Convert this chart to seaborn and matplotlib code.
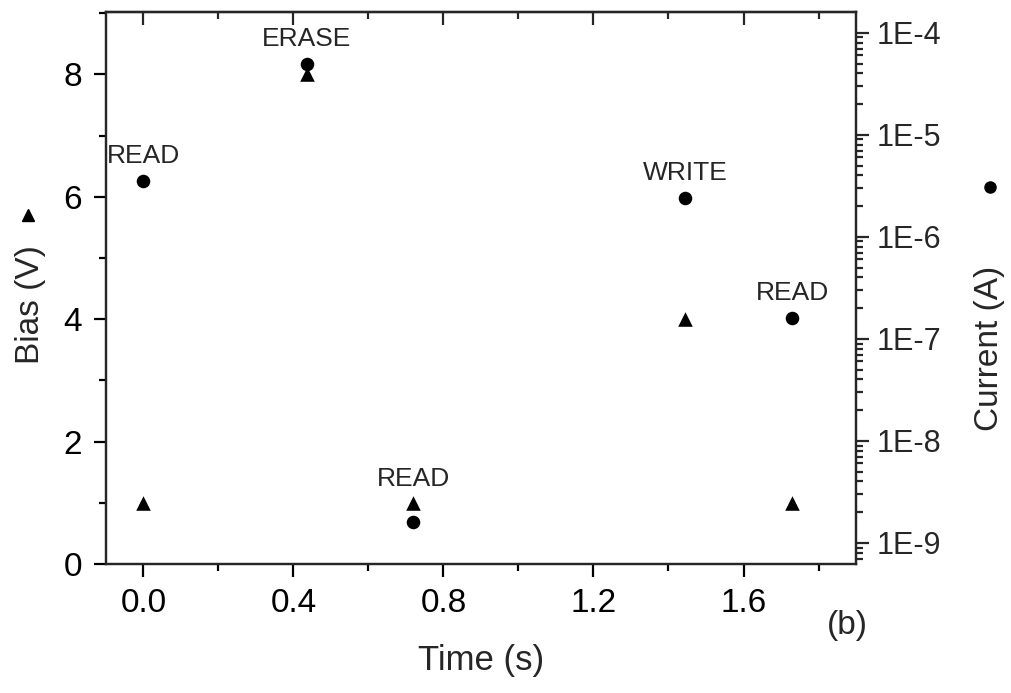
import numpy as np
import pandas as pd
import matplotlib
matplotlib.use("Agg")
import matplotlib.pyplot as plt
from matplotlib.ticker import MultipleLocator, LogLocator, FuncFormatter, NullFormatter
from matplotlib.lines import Line2D
import seaborn as sns

# Pulse sequence: applied bias and measured current at each step
time_s = [0.0, 0.435, 0.72, 1.445, 1.73]
bias_v = [1.0, 8.0, 1.0, 4.0, 1.0]
current_a = [3.5e-6, 4.9e-5, 1.6e-9, 2.4e-6, 1.6e-7]
step_labels = ["READ", "ERASE", "READ", "WRITE", "READ"]

x_ticks = [0.0, 0.4, 0.8, 1.2, 1.6]
bias_ticks = [0, 2, 4, 6, 8]

sns.set_style("ticks")
plt.rcParams["font.family"] = ["Liberation Sans", "DejaVu Sans"]
plt.rcParams["axes.linewidth"] = 1.6

df = pd.DataFrame({"time": time_s, "bias": bias_v, "current": current_a})

fig = plt.figure(figsize=(10.11, 6.93), dpi=100)
ax = fig.add_axes([0.1048, 0.1861, 0.7419, 0.7966])
ax2 = ax.twinx()

sns.scatterplot(data=df, x="time", y="bias", ax=ax, marker="^", s=110,
                color="black", edgecolor="black", linewidth=0, legend=False)
sns.scatterplot(data=df, x="time", y="current", ax=ax2, marker="o", s=95,
                color="black", edgecolor="black", linewidth=0, legend=False)

# Left axis: bias
ax.set_xlim(-0.1, 1.9)
ax.set_ylim(0, 9.02)
ax.set_xticks(x_ticks)
ax.xaxis.set_major_formatter(FuncFormatter(lambda v, p: f"{v:.1f}"))
ax.xaxis.set_minor_locator(MultipleLocator(0.2))
ax.set_yticks(bias_ticks)
ax.yaxis.set_minor_locator(MultipleLocator(1))
ax.tick_params(axis="both", which="major", direction="out", length=9,
               width=1.6, labelsize=24, color="black", labelcolor="black")
ax.tick_params(axis="both", which="minor", direction="out", length=5,
               width=1.6, color="black")
ax.tick_params(axis="y", right=False, which="both", pad=8)
ax.tick_params(axis="x", pad=8)
ax.set_xlabel("Time (s)", fontsize=25, labelpad=18)
ax.set_ylabel("")

# Mirrored ticks on the top edge, pointing into the plot
top = ax.secondary_xaxis("top")
top.set_xticks(x_ticks)
top.xaxis.set_minor_locator(MultipleLocator(0.2))
top.tick_params(which="major", direction="in", length=9, width=1.6, labeltop=False)
top.tick_params(which="minor", direction="in", length=5, width=1.6)
top.spines["top"].set_linewidth(1.6)

# Right axis: current on a log scale
ax2.set_yscale("log")
ax2.set_ylim(6.2e-10, 1.6e-4)
ax2.yaxis.set_major_locator(LogLocator(base=10, numticks=20))
ax2.yaxis.set_minor_locator(LogLocator(base=10, subs=np.arange(2, 10), numticks=20))
ax2.yaxis.set_major_formatter(FuncFormatter(lambda v, p: f"1E{int(round(np.log10(v)))}"))
ax2.yaxis.set_minor_formatter(NullFormatter())
ax2.tick_params(axis="y", which="major", direction="out", length=9, width=1.6,
                labelsize=22, pad=6)
ax2.tick_params(axis="y", which="minor", direction="out", length=5, width=1.6)
ax2.tick_params(axis="x", which="both", bottom=False, top=False,
                labelbottom=False, labeltop=False)
ax2.set_ylabel("")
ax2.set_xlabel("")
for side in ["left", "right", "top", "bottom"]:
    ax2.spines[side].set_linewidth(1.6)

# No offset/exponent annotations on any axis
for a in (ax, ax2, top):
    a.xaxis.offsetText.set_visible(False)
    a.yaxis.offsetText.set_visible(False)

# Step names above the upper marker of each step
for t, b, i, name in zip(time_s, bias_v, current_a, step_labels):
    b_disp = ax.transData.transform((t, b))[1]
    i_disp = ax2.transData.transform((t, i))[1]
    if i_disp >= b_disp:
        ax2.annotate(name, xy=(t, i), xytext=(0, 18), textcoords="offset points",
                     ha="center", va="center", fontsize=19)
    else:
        ax.annotate(name, xy=(t, b), xytext=(0, 17), textcoords="offset points",
                    ha="center", va="center", fontsize=19)

# Axis titles with their series symbols
fig.text(0.030, 0.56, "Bias (V)", rotation=90, ha="center", va="center", fontsize=24)
fig.add_artist(Line2D([0.028], [1 - 215 / 693], marker="^", markersize=9,
                      color="black", linestyle="none", transform=fig.transFigure))
fig.text(0.979, 0.497, "Current (A)", rotation=90, ha="center", va="center", fontsize=24)
fig.add_artist(Line2D([0.979], [1 - 187 / 693], marker="o", markersize=8,
                      color="black", linestyle="none", transform=fig.transFigure))
fig.text(0.838, 0.098, "(b)", ha="center", va="center", fontsize=24)

fig.savefig("out.png", dpi=100)
